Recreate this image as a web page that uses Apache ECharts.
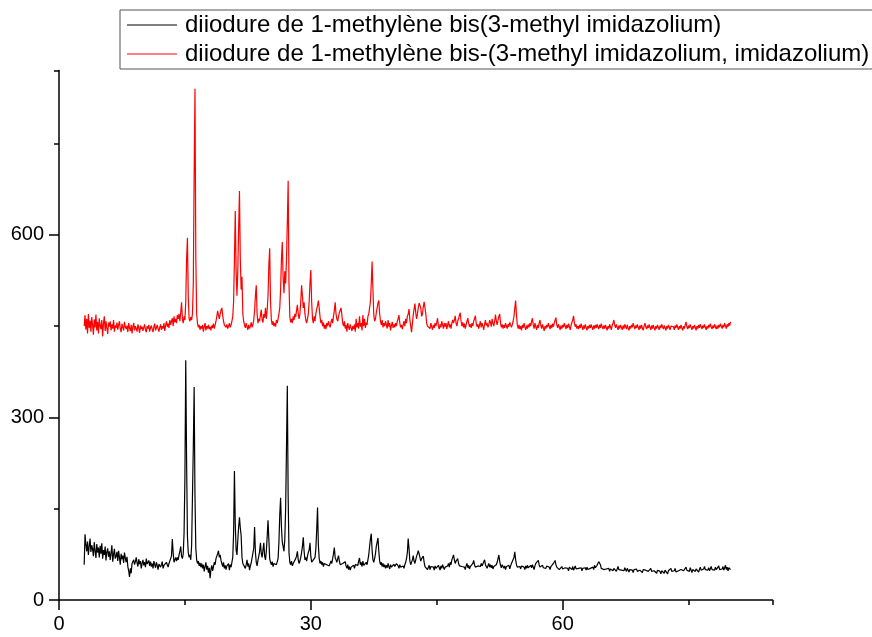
<!DOCTYPE html>
<html>
<head>
<meta charset="utf-8">
<script src="https://cdn.jsdelivr.net/npm/echarts@6/dist/echarts.min.js"></script>
<style>
  html, body { margin: 0; padding: 0; background: #fff; }
  #chart { width: 872px; height: 637px; }
</style>
</head>
<body>
<div id="chart"></div>
<script>
// Powder diffraction scans, 2θ from 3° to 80° in 0.1° steps
const twoThetaStart = 3.0;
const twoThetaStep = 0.1;

const seriesNames = [
  'diiodure de 1-methylène bis(3-methyl imidazolium)',
  'diiodure de 1-methylène bis-(3-methyl imidazolium, imidazolium)'
];

// intensities, one row per degree (3.0 ... 3.9, 4.0 ... 4.9, ...)
const blackCounts = [
  58,108,92,80,96,74,88,101,79,90,
  84,72,95,81,69,92,78,86,70,89,
  76,93,68,82,74,88,65,79,85,71,
  80,66,77,90,63,75,84,68,72,79,
  64,81,70,58,76,67,73,61,78,69,
  62,71,55,48,38,52,44,60,57,66,
  58,63,70,61,55,67,59,64,52,60,
  66,57,62,54,68,59,61,65,56,63,
  55,60,52,64,58,53,62,57,50,59,
  61,54,58,63,52,57,60,55,62,58,
  54,60,57,63,72,100,78,62,66,70,
  64,70,66,74,80,88,72,68,76,110,
  200,394,230,105,78,70,74,66,90,170,
  250,350,170,85,66,60,64,56,61,54,
  60,52,58,47,55,62,50,56,45,53,
  36,50,57,48,55,62,58,68,72,76,
  81,70,74,65,60,55,62,52,57,50,
  56,53,60,49,58,54,62,70,110,212,
  125,82,74,98,120,136,118,106,70,60,
  57,63,52,58,66,55,60,49,56,61,
  58,64,85,120,78,62,56,65,72,80,
  94,76,70,82,94,72,66,80,104,131,
  100,68,62,58,63,55,60,57,62,58,
  60,68,95,140,168,120,95,88,80,100,
  150,250,352,170,78,62,58,64,56,60,
  57,63,68,72,80,66,60,64,70,78,
  88,103,80,66,70,64,72,78,82,94,
  72,62,60,66,64,70,85,115,152,90,
  68,60,64,58,62,55,60,57,63,58,
  55,61,56,59,64,60,68,76,86,70,
  66,62,68,73,64,58,61,56,60,58,
  60,63,56,52,58,50,55,49,54,51,
  53,57,52,58,55,60,57,64,69,58,
  62,55,64,57,60,55,62,58,66,74,
  88,100,109,82,66,62,68,76,88,95,
  102,80,64,58,62,55,60,54,58,52,
  57,53,60,55,51,58,54,57,52,59,
  55,58,60,63,56,52,58,54,57,53,
  56,52,58,62,68,78,101,84,64,58,
  60,66,73,64,60,66,72,76,81,76,
  70,64,68,66,72,62,55,52,56,50,
  53,57,50,55,52,58,54,49,56,52,
  55,51,57,53,49,56,52,58,54,50,
  54,57,52,56,60,54,62,58,66,70,
  74,66,60,64,62,68,60,56,53,57,
  55,52,58,54,50,56,60,53,57,51,
  55,58,53,60,65,58,54,57,52,56,
  53,58,55,60,56,54,59,66,58,55,
  52,56,60,54,58,53,57,51,55,58,
  54,58,62,68,74,64,57,53,58,55,
  52,56,50,55,58,53,57,51,56,60,
  57,62,70,79,66,58,54,57,52,55,
  51,56,53,58,54,50,56,52,57,53,
  55,51,57,53,58,54,50,56,60,57,
  62,65,58,54,56,52,57,53,50,55,
  52,56,53,58,54,50,55,52,57,60,
  62,65,58,54,52,56,50,53,49,55,
  51,54,49,53,50,55,52,48,54,51,
  53,50,55,49,52,56,51,54,48,52,
  55,50,53,48,52,55,50,53,49,54,
  50,53,48,52,55,51,54,50,57,53,
  54,57,60,63,66,58,52,49,53,50,
  52,48,51,54,49,52,47,51,54,50,
  48,52,49,53,47,51,55,50,48,52,
  49,46,51,48,53,50,47,52,49,46,
  50,47,52,49,45,50,53,48,51,47,
  50,46,49,52,48,45,50,47,53,49,
  46,50,47,44,49,52,47,50,45,48,
  51,47,44,49,46,50,47,43,48,51,
  47,44,49,46,50,43,48,45,49,52,
  47,50,45,48,52,46,49,44,48,51,
  46,50,47,52,48,45,50,54,49,46,
  50,47,53,49,45,50,48,52,47,51,
  48,52,46,50,54,49,52,47,51,55,
  50,47,52,49,53,48,51,55,50,47,
  52,49,54,50,47,52,56,50,53,48,
  51,55,49,53,57,50,54,48,53,56,
  50
];

const redCounts = [
  450,468,444,462,438,470,447,459,441,465,
  452,436,461,448,469,443,457,438,463,450,
  445,460,433,455,466,442,458,447,437,456,
  449,458,443,453,446,460,441,451,447,456,
  444,452,458,446,440,454,448,443,457,449,
  445,451,440,455,447,442,452,438,449,455,
  443,450,446,441,453,447,439,451,445,449,
  442,448,453,444,440,450,446,452,441,447,
  451,445,440,449,454,443,447,452,446,441,
  448,453,444,450,446,455,442,451,458,449,
  454,447,460,452,458,463,450,466,456,462,
  455,468,462,470,458,472,489,462,455,466,
  460,490,560,595,500,462,458,465,460,470,
  520,700,840,560,470,455,448,452,444,450,
  446,452,441,449,455,443,450,446,452,445,
  449,443,451,447,454,446,452,458,466,475,
  468,462,470,476,480,468,458,452,455,448,
  453,446,450,455,448,452,458,466,490,560,
  639,540,500,540,610,672,560,510,531,470,
  458,452,447,455,449,444,452,446,450,456,
  448,453,460,475,500,517,470,455,462,458,
  468,477,460,456,470,464,480,462,476,500,
  550,578,490,460,452,458,450,455,449,460,
  455,462,470,480,510,560,588,530,504,540,
  520,560,620,689,520,465,456,462,455,466,
  460,470,465,476,485,470,462,470,490,517,
  500,480,489,470,460,455,462,470,490,520,
  542,490,462,455,466,458,470,478,484,492,
  480,465,455,460,450,456,446,452,445,455,
  450,458,452,448,456,462,455,466,476,489,
  470,462,458,466,472,476,480,468,455,450,
  458,446,452,441,455,448,444,453,447,442,
  450,445,453,441,462,448,455,446,466,449,
  455,443,468,450,462,447,456,452,466,470,
  470,490,520,556,510,468,458,462,472,480,
  488,492,470,458,452,460,448,455,450,458,
  452,446,460,449,455,443,451,457,447,453,
  448,455,450,458,462,468,455,448,452,445,
  452,458,450,462,455,466,470,478,460,450,
  440,455,468,478,487,472,462,470,480,488,
  491,480,466,470,482,490,492,470,455,450,
  448,452,446,455,449,444,452,447,455,450,
  456,463,450,445,453,448,458,452,446,455,
  449,455,445,452,458,448,453,446,455,460,
  455,460,467,455,450,458,462,468,472,458,
  450,456,448,454,446,452,458,463,455,449,
  453,447,455,450,458,462,467,455,449,453,
  446,452,458,448,455,450,444,453,460,451,
  455,448,452,460,456,449,462,455,450,458,
  469,458,452,460,466,470,455,448,453,446,
  452,447,455,450,446,453,449,456,452,448,
  452,458,466,480,492,468,452,446,452,445,
  450,443,452,447,455,449,444,451,446,453,
  448,455,450,458,463,452,446,455,449,444,
  452,447,455,460,451,446,453,448,442,450,
  446,452,448,455,450,445,452,447,454,449,
  455,460,464,452,447,453,449,444,451,446,
  452,448,455,450,445,452,447,454,449,444,
  451,456,460,467,455,449,453,446,450,445,
  452,447,454,449,444,451,446,453,448,443,
  450,446,452,447,453,448,444,451,446,452,
  447,453,449,445,452,447,454,449,445,451,
  446,452,448,443,450,446,453,449,444,451,
  455,460,452,447,453,448,444,451,446,452,
  448,444,451,446,453,449,445,452,447,443,
  450,446,452,448,455,450,445,451,447,453,
  448,444,451,446,452,447,443,450,455,449,
  445,451,447,453,448,444,451,446,452,447,
  443,450,446,452,448,444,451,447,453,449,
  445,451,447,443,450,446,452,448,444,450,
  447,453,449,444,451,447,453,448,444,450,
  446,452,447,443,450,446,452,457,449,445,
  451,447,453,448,444,450,446,452,448,443,
  450,446,452,447,453,449,445,451,447,453,
  448,444,450,446,452,448,454,449,445,451,
  447,453,449,445,451,446,452,448,454,450,
  446,452,448,455,450,446,453,449,455,451,
  457
];

const seriesColors = ['#000000', '#ff0000'];

const FONT = '"Liberation Sans", Arial, sans-serif';

function toPairs(counts) {
  return counts.map((c, i) => [+(twoThetaStart + i * twoThetaStep).toFixed(1), c]);
}

const xRange = { min: 0, max: 85 };
const yRange = { min: 0, max: 870 };

const chart = echarts.init(document.getElementById('chart'), null, { renderer: 'canvas' });

const axisLine = { show: true, lineStyle: { color: '#000', width: 1.5 } };
const tickStyle = { color: '#000', width: 1.5 };

chart.setOption({
  animation: false,
  backgroundColor: '#ffffff',
  grid: { left: 59, right: 99.5, top: 70.5, bottom: 37, containLabel: false },
  legend: {
    orient: 'vertical',
    left: 120,
    top: 10,
    padding: [2, 4, 2, 7],
    itemGap: 3,
    itemWidth: 50,
    itemHeight: 1.2,
    icon: 'rect',
    borderColor: '#555',
    borderWidth: 1,
    textStyle: { fontFamily: FONT, fontSize: 24, color: '#000', lineHeight: 26, padding: [0, 0, 0, 3] },
    data: seriesNames
  },
  xAxis: [
    {
      type: 'value', min: xRange.min, max: xRange.max, interval: 30,
      position: 'bottom',
      axisLine: axisLine,
      axisTick: { show: true, inside: false, length: 10, lineStyle: tickStyle },
      axisLabel: { show: true, showMaxLabel: false, margin: 14, fontFamily: FONT, fontSize: 20, color: '#000' },
      splitLine: { show: false }
    },
    {
      type: 'value', min: xRange.min, max: xRange.max, interval: 15,
      position: 'bottom',
      axisLine: { show: false },
      axisTick: { show: true, inside: false, length: 5, lineStyle: tickStyle },
      axisLabel: { show: false },
      splitLine: { show: false }
    }
  ],
  yAxis: [
    {
      type: 'value', min: yRange.min, max: yRange.max, interval: 300,
      position: 'left',
      axisLine: axisLine,
      axisTick: { show: true, inside: false, length: 10, lineStyle: tickStyle },
      axisLabel: { show: true, showMaxLabel: false, margin: 15, fontFamily: FONT, fontSize: 20, color: '#000' },
      splitLine: { show: false }
    },
    {
      type: 'value', min: yRange.min, max: yRange.max, interval: 150,
      position: 'left',
      axisLine: { show: false },
      axisTick: { show: true, inside: false, length: 5, lineStyle: tickStyle },
      axisLabel: { show: false },
      splitLine: { show: false }
    }
  ],
  series: [
    {
      name: seriesNames[0], type: 'line', xAxisIndex: 0, yAxisIndex: 0,
      data: toPairs(blackCounts), symbol: 'none', color: seriesColors[0],
      lineStyle: { color: seriesColors[0], width: 1.2 }
    },
    {
      name: seriesNames[1], type: 'line', xAxisIndex: 0, yAxisIndex: 0,
      data: toPairs(redCounts), symbol: 'none', color: seriesColors[1],
      lineStyle: { color: seriesColors[1], width: 1.2 }
    }
  ]
});
</script>
</body>
</html>
